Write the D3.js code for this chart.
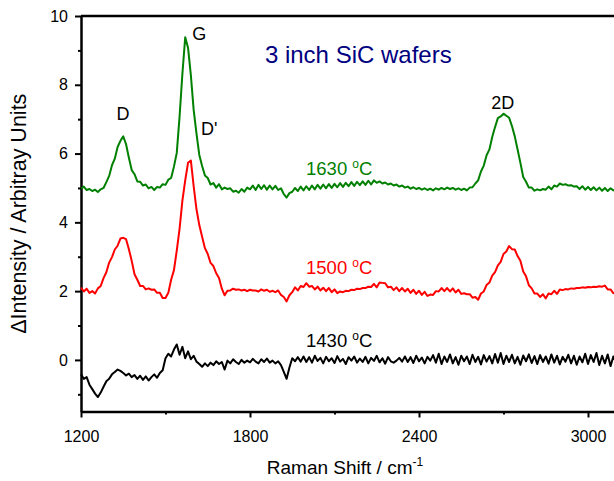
<!DOCTYPE html>
<html>
<head>
<meta charset="utf-8">
<script src="https://cdnjs.cloudflare.com/ajax/libs/d3/7.8.5/d3.min.js"></script>
<style>
  body { margin: 0; background: #fff; }
  svg { display: block; font-family: "Liberation Sans", Arial, sans-serif; }
  .axis path, .axis line { stroke: #000; }
  .axis path { stroke-width: 2.5; }
  .axis line { stroke-width: 2; }
  .axis text { font-size: 16px; fill: #000; font-family: "Liberation Sans", Arial, sans-serif; }
</style>
</head>
<body>
<div id="chart"></div>
<script>
// Raman shift (cm-1), one reading every 10 cm-1
var shift = [
  1200, 1210, 1220, 1230, 1240, 1250, 1260, 1270, 1280, 1290,
  1300, 1310, 1320, 1330, 1340, 1350, 1360, 1370, 1380, 1390,
  1400, 1410, 1420, 1430, 1440, 1450, 1460, 1470, 1480, 1490,
  1500, 1510, 1520, 1530, 1540, 1550, 1560, 1570, 1580, 1590,
  1600, 1610, 1620, 1630, 1640, 1650, 1660, 1670, 1680, 1690,
  1700, 1710, 1720, 1730, 1740, 1750, 1760, 1770, 1780, 1790,
  1800, 1810, 1820, 1830, 1840, 1850, 1860, 1870, 1880, 1890,
  1900, 1910, 1920, 1930, 1940, 1950, 1960, 1970, 1980, 1990,
  2000, 2010, 2020, 2030, 2040, 2050, 2060, 2070, 2080, 2090,
  2100, 2110, 2120, 2130, 2140, 2150, 2160, 2170, 2180, 2190,
  2200, 2210, 2220, 2230, 2240, 2250, 2260, 2270, 2280, 2290,
  2300, 2310, 2320, 2330, 2340, 2350, 2360, 2370, 2380, 2390,
  2400, 2410, 2420, 2430, 2440, 2450, 2460, 2470, 2480, 2490,
  2500, 2510, 2520, 2530, 2540, 2550, 2560, 2570, 2580, 2590,
  2600, 2610, 2620, 2630, 2640, 2650, 2660, 2670, 2680, 2690,
  2700, 2710, 2720, 2730, 2740, 2750, 2760, 2770, 2780, 2790,
  2800, 2810, 2820, 2830, 2840, 2850, 2860, 2870, 2880, 2890,
  2900, 2910, 2920, 2930, 2940, 2950, 2960, 2970, 2980, 2990,
  3000, 3010, 3020, 3030, 3040, 3050, 3060, 3070, 3080, 3090,
  3100
];

var intensity1630 = [
  4.98, 5.04, 4.94, 4.97, 4.91, 4.95, 4.88, 4.96, 5.00, 5.17,
  5.35, 5.66, 5.85, 6.19, 6.37, 6.50, 6.27, 5.88, 5.52, 5.40,
  5.19, 5.18, 5.07, 5.10, 4.99, 5.03, 4.94, 5.03, 5.01, 5.11,
  5.09, 5.24, 5.29, 5.62, 6.02, 7.08, 8.32, 9.38, 9.08, 8.28,
  7.27, 6.58, 5.96, 5.64, 5.36, 5.29, 5.10, 5.14, 5.01, 5.11,
  4.96, 5.01, 4.97, 4.99, 4.89, 4.92, 4.86, 4.97, 4.89, 5.01,
  4.96, 5.07, 4.94, 5.09, 4.97, 5.08, 4.95, 5.07, 4.96, 5.06,
  4.94, 4.99, 4.82, 4.72, 4.85, 4.89, 5.00, 4.91, 5.04, 4.93,
  5.05, 4.94, 5.07, 4.96, 5.09, 4.98, 5.10, 4.99, 5.11, 5.00,
  5.12, 5.02, 5.14, 5.03, 5.15, 5.05, 5.17, 5.06, 5.18, 5.08,
  5.19, 5.09, 5.21, 5.10, 5.22, 5.15, 5.19, 5.13, 5.16, 5.10,
  5.13, 5.07, 5.10, 5.04, 5.07, 5.01, 5.04, 4.98, 5.02, 4.97,
  5.00, 4.95, 4.99, 4.94, 4.98, 4.93, 4.99, 4.95, 5.00, 4.96,
  5.01, 4.97, 5.00, 4.95, 4.99, 4.94, 4.98, 4.93, 5.01, 5.02,
  5.13, 5.22, 5.48, 5.65, 5.95, 6.12, 6.48, 6.77, 7.03, 7.08,
  7.16, 7.10, 7.04, 6.80, 6.50, 6.12, 5.73, 5.32, 5.18, 5.01,
  5.01, 4.92, 4.96, 4.93, 4.97, 4.95, 5.04, 4.96, 5.07, 5.04,
  5.13, 5.09, 5.11, 5.07, 5.08, 5.04, 5.05, 4.97, 5.05, 4.95,
  5.03, 4.94, 5.02, 4.93, 5.01, 4.92, 5.00, 4.91, 4.99, 4.93,
  4.97
];

var intensity1500 = [
  2.10, 1.99, 2.07, 1.95, 2.00, 1.93, 2.08, 2.15, 2.38, 2.55,
  2.83, 2.99, 3.21, 3.32, 3.53, 3.55, 3.51, 3.22, 2.88, 2.49,
  2.33, 2.15, 2.15, 2.05, 2.08, 2.04, 2.05, 1.95, 1.95, 1.80,
  1.80, 1.95, 2.33, 2.61, 3.18, 3.82, 4.63, 5.22, 5.73, 5.80,
  5.05, 4.38, 3.92, 3.58, 3.25, 3.08, 2.82, 2.73, 2.52, 2.38,
  2.07, 1.88, 2.01, 2.02, 2.07, 2.04, 2.05, 2.02, 2.04, 2.00,
  2.04, 2.02, 2.02, 1.99, 2.05, 2.01, 2.04, 1.98, 2.01, 1.97,
  2.02, 1.89, 1.83, 1.70, 1.88, 1.97, 2.11, 2.02, 2.15, 2.12,
  2.23, 2.13, 2.15, 2.05, 2.13, 2.02, 2.10, 2.00, 2.09, 1.97,
  2.05, 1.94, 1.99, 1.97, 2.01, 2.00, 2.04, 2.03, 2.07, 2.06,
  2.09, 2.09, 2.13, 2.12, 2.21, 2.11, 2.25, 2.24, 2.23, 2.11,
  2.13, 2.03, 2.11, 2.00, 2.09, 1.99, 2.07, 1.95, 2.04, 1.92,
  2.01, 1.89, 1.98, 1.86, 1.90, 1.89, 2.00, 1.99, 2.09, 2.00,
  2.09, 1.99, 2.08, 1.96, 2.04, 1.92, 1.94, 1.91, 1.91, 1.81,
  1.83, 1.75, 1.93, 1.99, 2.18, 2.25, 2.45, 2.55, 2.75, 2.85,
  3.08, 3.15, 3.31, 3.22, 3.21, 3.02, 2.88, 2.57, 2.43, 2.17,
  2.08, 1.93, 1.93, 1.83, 1.91, 1.79, 1.93, 1.91, 2.01, 1.92,
  2.05, 2.03, 2.06, 2.05, 2.08, 2.07, 2.09, 2.09, 2.11, 2.10,
  2.12, 2.11, 2.13, 2.12, 2.14, 2.13, 2.16, 2.05, 2.05, 1.94,
  1.99
];

var intensity1430 = [
  -0.42, -0.55, -0.50, -0.72, -0.85, -0.98, -1.08, -0.95, -0.78, -0.62,
  -0.55, -0.42, -0.35, -0.28, -0.32, -0.38, -0.45, -0.40, -0.50, -0.44,
  -0.55, -0.46, -0.58, -0.48, -0.60, -0.50, -0.42, -0.52, -0.38, -0.30,
  0.05, 0.18, 0.10, 0.30, 0.45, 0.15, 0.38, 0.05, 0.25, 0.02,
  0.12, -0.05, -0.12, -0.20, -0.10, -0.18, -0.08, -0.15, -0.04, -0.12,
  -0.06, -0.28, -0.02, -0.10, 0.02, -0.06, -0.12, 0.00, -0.08, -0.02,
  -0.07, 0.03, -0.05, -0.10, 0.02, -0.06, 0.04, -0.08, -0.02, -0.10,
  -0.04, -0.15, -0.35, -0.55, -0.22, 0.05, -0.04, 0.08, -0.05, 0.10,
  -0.06, 0.08, -0.08, 0.12, -0.03, 0.06, -0.10, 0.09, -0.04, 0.05,
  -0.09, 0.11, -0.05, 0.03, -0.12, 0.08, -0.02, 0.10, -0.08, 0.04,
  -0.06, 0.09, -0.10, 0.06, -0.03, 0.12, -0.07, 0.05, -0.11, 0.08,
  -0.04, -0.08, -0.02, 0.06, -0.05, 0.10, -0.06, 0.08, -0.09, 0.12,
  -0.04, 0.07, -0.10, 0.09, -0.02, 0.14, -0.08, 0.18, -0.12, 0.10,
  -0.06, 0.16, -0.10, 0.08, -0.14, 0.12, -0.04, 0.10, -0.12, 0.15,
  -0.06, 0.09, -0.13, 0.14, -0.05, 0.11, -0.10, 0.17, -0.08, 0.20,
  -0.12, 0.12, -0.06, 0.15, -0.10, 0.09, -0.14, 0.13, -0.04, 0.16,
  -0.09, 0.11, -0.12, 0.14, -0.06, 0.10, -0.11, 0.16, -0.08, 0.12,
  -0.13, 0.09, -0.05, 0.15, -0.10, 0.12, -0.14, 0.10, -0.07, 0.18,
  -0.12, 0.14, -0.06, 0.20, -0.15, 0.12, -0.10, 0.16, -0.18, 0.10,
  -0.06
];

var xTicks = [1200, 1800, 2400, 3000];
var xMinorTicks = [1500, 2100, 2700];
var yTicks = [0, 2, 4, 6, 8, 10];
var yMinorTicks = [-1, 1, 3, 5, 7, 9];

var chart_width = 614;
var chart_height = 481;

var svg = d3.select('#chart')
  .append('svg')
  .attr('width', chart_width)
  .attr('height', chart_height);

// the plot runs past the right edge of the picture
var x_scale = d3.scaleLinear()
  .domain([1200, 3300])
  .range([81, 672.5]);

var y_scale = d3.scaleLinear()
  .domain([-1.5, 10])
  .range([411.5, 16]);

// axes
var x_axis = d3.axisBottom(x_scale)
  .tickValues(xTicks)
  .tickFormat(d3.format('d'))
  .tickSize(6)
  .tickSizeOuter(0)
  .tickPadding(13);
svg.append('g')
  .attr('class', 'axis')
  .attr('transform', 'translate(0,' + y_scale(-1.5) + ')')
  .call(x_axis);

var x_minor = d3.axisBottom(x_scale)
  .tickValues(xMinorTicks)
  .tickSize(3)
  .tickFormat('');
svg.append('g')
  .attr('class', 'axis')
  .attr('transform', 'translate(0,' + y_scale(-1.5) + ')')
  .call(x_minor)
  .select('.domain').remove();

var y_axis = d3.axisLeft(y_scale)
  .tickValues(yTicks)
  .tickFormat(d3.format('d'))
  .tickSize(6)
  .tickSizeOuter(0)
  .tickPadding(7);
svg.append('g')
  .attr('class', 'axis')
  .attr('transform', 'translate(' + x_scale(1200) + ',0)')
  .call(y_axis);

var y_minor = d3.axisLeft(y_scale)
  .tickValues(yMinorTicks)
  .tickSize(3)
  .tickFormat('');
svg.append('g')
  .attr('class', 'axis')
  .attr('transform', 'translate(' + x_scale(1200) + ',0)')
  .call(y_minor)
  .select('.domain').remove();

// top frame
svg.append('line')
  .attr('x1', x_scale(1200))
  .attr('x2', x_scale(3300))
  .attr('y1', y_scale(10))
  .attr('y2', y_scale(10))
  .attr('stroke', '#000')
  .attr('stroke-width', 2.5);

// spectra
var spectra = [
  { values: intensity1430, color: '#000000' },
  { values: intensity1500, color: '#ff0000' },
  { values: intensity1630, color: '#008000' }
];

var line = d3.line()
  .x(function(d, i) { return x_scale(shift[i]); })
  .y(function(d) { return y_scale(d); });

svg.append('g')
  .selectAll('path')
  .data(spectra)
  .enter()
  .append('path')
  .attr('d', function(d) { return line(d.values); })
  .attr('fill', 'none')
  .attr('stroke', function(d) { return d.color; })
  .attr('stroke-width', 2)
  .attr('stroke-linejoin', 'round');

// peak labels
function label(text, xv, yv, anchor) {
  return svg.append('text')
    .attr('x', x_scale(xv))
    .attr('y', y_scale(yv))
    .attr('text-anchor', anchor)
    .attr('font-size', 18)
    .attr('fill', '#000')
    .text(text);
}
label('D', 1349, 6.97, 'middle');
label('G', 1595, 9.31, 'start');
label("D'", 1626, 6.54, 'start');
label('2D', 2697, 7.31, 'middle');

svg.append('text')
  .attr('x', x_scale(1853))
  .attr('y', y_scale(8.63))
  .attr('font-size', 24)
  .attr('fill', '#000080')
  .text('3 inch SiC wafers');

// temperature labels
function tempLabel(temp, yv, color) {
  var t = svg.append('text')
    .attr('x', x_scale(1999))
    .attr('y', y_scale(yv))
    .attr('font-size', 18.5)
    .attr('fill', color);
  t.append('tspan').text(temp + ' ');
  t.append('tspan').attr('font-size', 12).attr('dy', -7).text('o');
  t.append('tspan').attr('dy', 7).text('C');
}
tempLabel('1630', 5.38, '#008000');
tempLabel('1500', 2.50, '#ff0000');
tempLabel('1430', 0.38, '#000000');

// axis titles
var xt = svg.append('text')
  .attr('x', 345)
  .attr('y', 474)
  .attr('text-anchor', 'middle')
  .attr('font-size', 19)
  .attr('fill', '#000');
xt.append('tspan').text('Raman Shift / cm');
xt.append('tspan').attr('font-size', 12).attr('dy', -8).text('-1');

svg.append('text')
  .attr('transform', 'translate(26,' + y_scale(4.25) + ') rotate(-90)')
  .attr('text-anchor', 'middle')
  .attr('font-size', 21.5)
  .attr('fill', '#000')
  .text('\u0394Intensity / Arbitray Units');
</script>
</body>
</html>
